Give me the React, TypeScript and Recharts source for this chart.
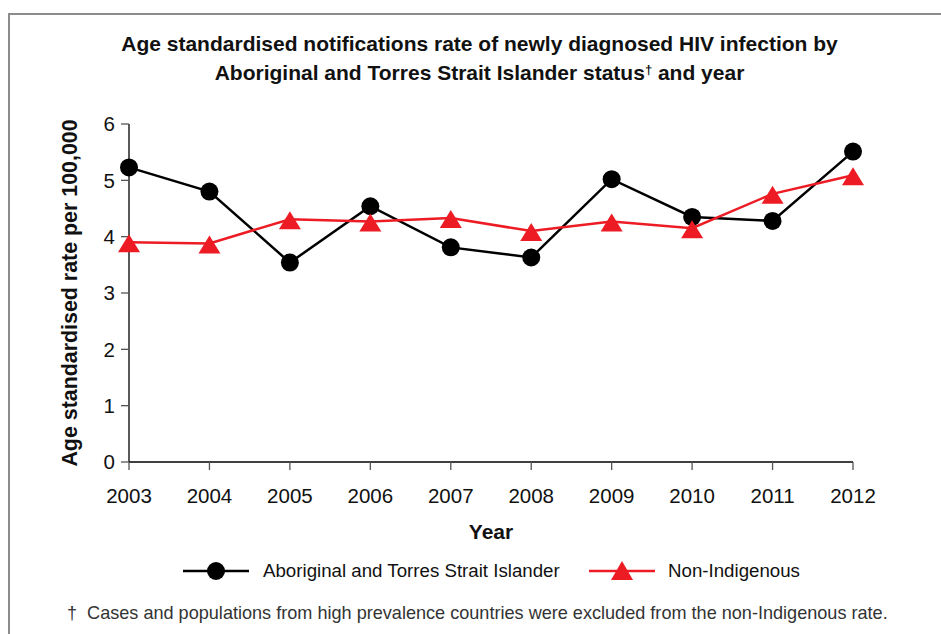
import React from 'react';
import { LineChart, Line, XAxis, YAxis } from 'recharts';

const years = ['2003', '2004', '2005', '2006', '2007', '2008', '2009', '2010', '2011', '2012'];
const aboriginal = [5.23, 4.8, 3.54, 4.54, 3.81, 3.63, 5.02, 4.35, 4.28, 5.51];
const nonIndigenous = [3.9, 3.88, 4.31, 4.27, 4.33, 4.1, 4.27, 4.15, 4.76, 5.09];
const yTicks = [0, 1, 2, 3, 4, 5, 6];

const seriesNames = ['Aboriginal and Torres Strait Islander', 'Non-Indigenous'];
const titleLines = [
  'Age standardised notifications rate of newly diagnosed HIV infection by',
  'Aboriginal and Torres Strait Islander status',
];
const yLabel = 'Age standardised rate per 100,000';
const xLabel = 'Year';
const footnote = 'Cases and populations from high prevalence countries were excluded from the non-Indigenous rate.';

const data = years.map((y, i) => ({ year: y, a: aboriginal[i], n: nonIndigenous[i] }));

const RED = '#ED1C24';
const FONT = '"Liberation Sans", Arial, Helvetica, sans-serif';

const Triangle = (props: any) => {
  const { cx, cy } = props;
  if (cx == null || cy == null) return null;
  return <polygon points={`${cx},${cy - 8} ${cx - 11},${cy + 10} ${cx + 11},${cy + 10}`} fill={RED} />;
};

const Circle = (props: any) => {
  const { cx, cy } = props;
  if (cx == null || cy == null) return null;
  return <circle cx={cx} cy={cy} r={9} fill="#000" />;
};

export default function App() {
  return (
    <div style={{ position: 'absolute', left: 0, top: 0, width: 941, height: 634, background: '#fff', fontFamily: FONT, overflow: 'hidden' }}>
      <div style={{ position: 'absolute', left: 8, top: 13, width: 941, height: 640, borderLeft: '2px solid #8c8c8c', borderTop: '2px solid #8c8c8c' }} />
      <div style={{ position: 'absolute', left: 0, width: 941, top: 29, textAlign: 'center', fontWeight: 'bold', fontSize: 21, lineHeight: '29px', color: '#111' }}>
        <div style={{ paddingLeft: 18 }}>{titleLines[0]}</div>
        <div style={{ paddingLeft: 18 }}>{titleLines[1]}<sup style={{ fontSize: 13, verticalAlign: 'top', position: 'relative', top: -3 }}>†</sup> and year</div>
      </div>
      <div style={{ position: 'absolute', left: 0, top: 0 }}>
        <LineChart width={941} height={634} data={data} margin={{ top: 124, right: 88, bottom: 142, left: 69 }}>
          <XAxis
            dataKey="year"
            height={30}
            tickSize={8}
            tickMargin={18}
            padding={{ left: 0, right: 0 }}
            axisLine={{ stroke: '#000', strokeWidth: 1.3 }}
            tickLine={{ stroke: '#555', strokeWidth: 1.3 }}
            tick={{ fill: '#111', fontSize: 20.5, fontFamily: FONT }}
            interval={0}
          />
          <YAxis
            width={60}
            domain={[0, 6]}
            ticks={yTicks}
            tickSize={8}
            tickMargin={6}
            axisLine={{ stroke: '#000', strokeWidth: 1.3 }}
            tickLine={{ stroke: '#555', strokeWidth: 1.3 }}
            tick={{ fill: '#111', fontSize: 20.5, fontFamily: FONT }}
            interval={0}
          />
          <Line dataKey="a" name={seriesNames[0]} stroke="#000" strokeWidth={2.5} dot={<Circle />} activeDot={false} isAnimationActive={false} />
          <Line dataKey="n" name={seriesNames[1]} stroke={RED} strokeWidth={2.5} dot={<Triangle />} activeDot={false} isAnimationActive={false} />
        </LineChart>
      </div>
      <div style={{ position: 'absolute', left: 70 - 200, top: 293 - 15, width: 400, height: 30, lineHeight: '30px', textAlign: 'center', transform: 'rotate(-90deg)', fontWeight: 'bold', fontSize: 21.4, color: '#111' }}>
        {yLabel}
      </div>
      <div style={{ position: 'absolute', left: 391, width: 200, top: 518, textAlign: 'center', fontWeight: 'bold', fontSize: 21, lineHeight: '28px', color: '#111' }}>
        {xLabel}
      </div>
      <div style={{ position: 'absolute', left: 183, top: 557, height: 28, display: 'flex', alignItems: 'center', fontSize: 18.7, color: '#111' }}>
        <svg width={66} height={28} style={{ display: 'block' }}>
          <line x1={0} y1={14} x2={66} y2={14} stroke="#000" strokeWidth={2.5} />
          <circle cx={33} cy={14} r={9} fill="#000" />
        </svg>
        <span style={{ marginLeft: 14 }}>{seriesNames[0]}</span>
      </div>
      <div style={{ position: 'absolute', left: 589, top: 557, height: 28, display: 'flex', alignItems: 'center', fontSize: 18.7, color: '#111' }}>
        <svg width={66} height={28} style={{ display: 'block' }}>
          <line x1={0} y1={14} x2={66} y2={14} stroke={RED} strokeWidth={2.5} />
          <polygon points="33,4 22,23 44,23" fill={RED} />
        </svg>
        <span style={{ marginLeft: 13 }}>{seriesNames[1]}</span>
      </div>
      <div style={{ position: 'absolute', left: 67, top: 601, fontSize: 18.1, lineHeight: '24px', color: '#333', whiteSpace: 'nowrap' }}>
        <span>†</span><span style={{ marginLeft: 10 }}>{footnote}</span>
      </div>
    </div>
  );
}
